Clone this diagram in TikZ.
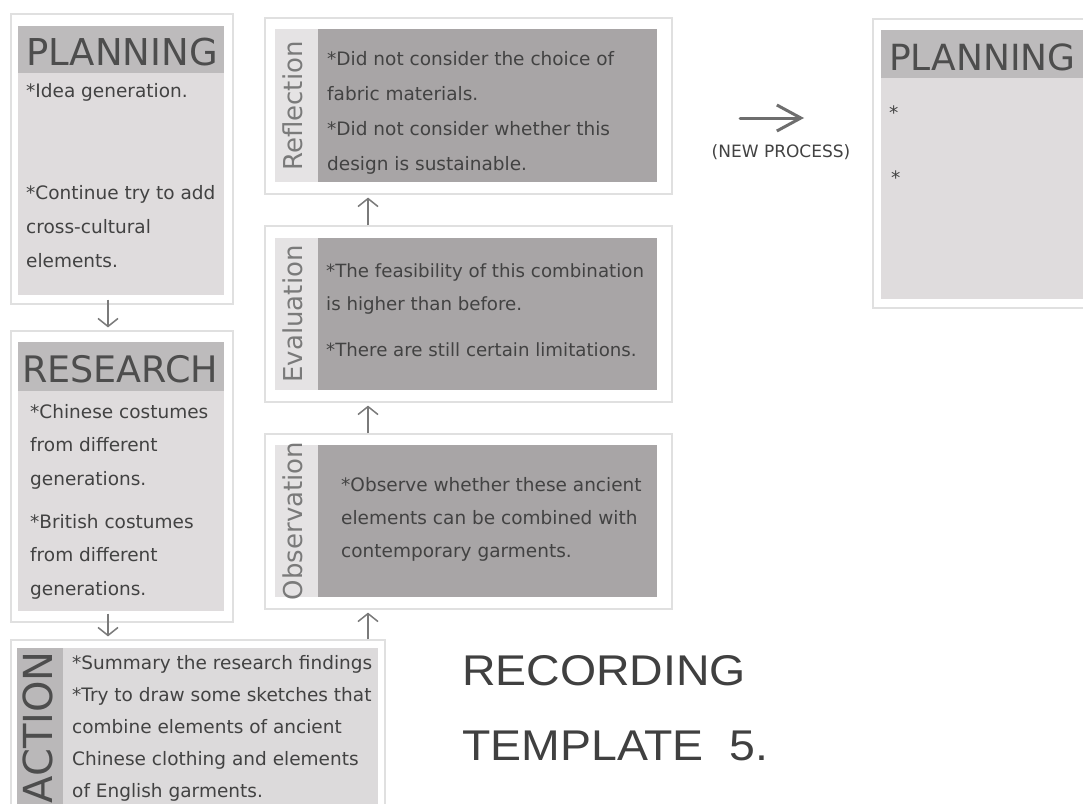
\documentclass[tikz,border=0pt]{standalone}
\usepackage{fontspec}
\setmainfont{DejaVu Sans}
\newfontfamily\arialf{Liberation Sans}
\usetikzlibrary{arrows.meta,fit}
\definecolor{frameline}{HTML}{E0E0E0}
\definecolor{lightbody}{HTML}{DFDCDD}
\definecolor{hdrfill}{HTML}{BDBBBC}
\definecolor{darkbody}{HTML}{A8A5A6}
\definecolor{lightstrip}{HTML}{E5E3E4}
\definecolor{actstrip}{HTML}{BAB8B9}
\definecolor{actbody}{HTML}{DCDADB}
\definecolor{bodytext}{HTML}{424242}
\definecolor{hdrtext}{HTML}{4D4D4D}
\definecolor{vlab}{HTML}{7A7A7A}
\definecolor{arrowgray}{HTML}{7A7A7A}
\definecolor{titletext}{HTML}{404040}
\tikzset{
  frame/.style={draw=frameline, line width=1.2pt, fill=white, inner sep=0pt},
  txt/.style={inner sep=0pt, anchor=base west, text=bodytext, font=\fontsize{18.5}{33.5}\selectfont},
  hdr/.style={inner sep=0pt, anchor=base west, text=hdrtext, font=\fontsize{37}{40}\selectfont},
  vlabel/.style={inner sep=0pt, anchor=base, rotate=90, text=vlab, font=\fontsize{26}{28}\selectfont},
  flow/.style={draw=arrowgray, line width=1.5pt, -{Straight Barb[length=8pt,width=20pt]}},
  sketch/.style={draw=arrowgray!90!black, line width=3pt, line cap=round, -{Straight Barb[length=24pt,width=26pt]}},
}
\begin{document}
\begin{tikzpicture}[x=1pt,y=-1pt]
\useasboundingbox (0,0) rectangle (1083,803);
\clip (0,0) rectangle (1083,803);
\fill[white] (0,0) rectangle (1083,803);

% ---------- PLANNING (left) ----------
\node[frame, fit={(11,14)(233,304)}] (planF) {};
\fill[lightbody] (18,26) rectangle (224,295);
\fill[hdrfill] (18,26) rectangle (224,73);
\node[hdr] (planH) at (26,65) {PLANNING};
\node[txt, font=\fontsize{18.5}{34}\selectfont] (planT) at (26,97) {\begin{tabular}[t]{@{}l@{}}*Idea generation.\\ \\ \\ {*}Continue try to add\\ cross-cultural\\ elements.\end{tabular}};

% ---------- RESEARCH ----------
\node[frame, fit={(11,331)(233,622)}] (resF) {};
\fill[lightbody] (18,342) rectangle (224,611);
\fill[hdrfill] (18,342) rectangle (224,391);
\node[hdr, font=\fontsize{36.5}{40}\selectfont] (resH) at (22,382) {RESEARCH};
\node[txt] (resT) at (30,418) {\begin{tabular}[t]{@{}l@{}}*Chinese costumes\\ from different\\ generations.\\[9.5pt] {*}British costumes\\ from different\\ generations.\end{tabular}};

% ---------- ACTION ----------
\node[frame, fit={(11,640)(385,830)}] (actF) {};
\fill[actbody] (17,648) rectangle (378,830);
\fill[actstrip] (17,648) rectangle (63,830);
\node[inner sep=0pt, anchor=base east, rotate=90, text=hdrtext, font=\fontsize{40}{42}\selectfont] (actH) at (52,651) {ACTION};
\node[txt, font=\fontsize{18.5}{32}\selectfont] (actT) at (72,669) {\begin{tabular}[t]{@{}l@{}}*Summary the research findings\\ {*}Try to draw some sketches that\\ combine elements of ancient\\ Chinese clothing and elements\\ of English garments.\end{tabular}};

% ---------- REFLECTION ----------
\node[frame, fit={(265,18)(672,194)}] (refF) {};
\fill[darkbody] (275,29) rectangle (657,182);
\fill[lightstrip] (275,29) rectangle (318,182);
\node[vlabel] (refH) at (302,106) {Reflection};
\node[txt, font=\fontsize{18.5}{35}\selectfont] (refT) at (327,65) {\begin{tabular}[t]{@{}l@{}}*Did not consider the choice of\\ fabric materials.\\ {*}Did not consider whether this\\ design is sustainable.\end{tabular}};

% ---------- EVALUATION ----------
\node[frame, fit={(265,226)(672,402)}] (evaF) {};
\fill[darkbody] (275,238) rectangle (657,390);
\fill[lightstrip] (275,238) rectangle (318,390);
\node[vlabel] (evaH) at (302,314) {Evaluation};
\node[txt, font=\fontsize{18.2}{33}\selectfont] (evaT) at (326,277) {\begin{tabular}[t]{@{}l@{}}*The feasibility of this combination\\ is higher than before.\\[13pt] {*}There are still certain limitations.\end{tabular}};

% ---------- OBSERVATION ----------
\node[frame, fit={(265,434)(672,609)}] (obsF) {};
\fill[darkbody] (275,445) rectangle (657,597);
\fill[lightstrip] (275,445) rectangle (318,597);
\node[vlabel] (obsH) at (302,521) {Observation};
\node[txt, font=\fontsize{18.5}{33}\selectfont] (obsT) at (341,491) {\begin{tabular}[t]{@{}l@{}}*Observe whether these ancient\\ elements can be combined with\\ contemporary garments.\end{tabular}};

% ---------- PLANNING (right) ----------
\node[frame, fit={(873,19)(1100,308)}] (plan2F) {};
\fill[lightbody] (881,30) rectangle (1100,299);
\fill[hdrfill] (881,30) rectangle (1100,78);
\node[hdr, font=\fontsize{36}{40}\selectfont] (plan2H) at (889,70) {PLANNING};
\node[txt] (star1) at (889,119) {*};
\node[txt] (star2) at (891,184) {*};

% ---------- new process arrow ----------
\coordinate (npS) at (740,118);
\coordinate (npE) at (804,118);
\draw[sketch] (npS) -- (npE);
\node[inner sep=0pt, anchor=base, text=bodytext, font=\fontsize{17}{20}\selectfont] (npL) at (781,157) {(NEW PROCESS)};

% ---------- flow arrows ----------
\draw[flow] ([yshift=5pt]planF.south -| 108,0) -- ([yshift=3pt]resF.north -| 108,0);
\draw[flow] ([yshift=9pt]resF.south -| 108,0) -- ([yshift=3pt]actF.north -| 108,0);
\draw[flow] (actF.north -| 368,0) -- ([yshift=-3pt]obsF.south -| 368,0);
\draw[flow] (obsF.north -| 368,0) -- ([yshift=-3pt]evaF.south -| 368,0);
\draw[flow] (evaF.north -| 368,0) -- ([yshift=-3pt]refF.south -| 368,0);

% ---------- title ----------
\node[inner sep=0pt, anchor=base west, xscale=1.08, text=titletext, font=\arialf\fontsize{43}{45}\selectfont] (rec) at (462,685) {RECORDING};
\node[inner sep=0pt, anchor=base west, xscale=1.08, text=titletext, font=\arialf\fontsize{43}{45}\selectfont] (tpl) at (462,760) {TEMPLATE\ \ 5.};
\end{tikzpicture}
\end{document}
